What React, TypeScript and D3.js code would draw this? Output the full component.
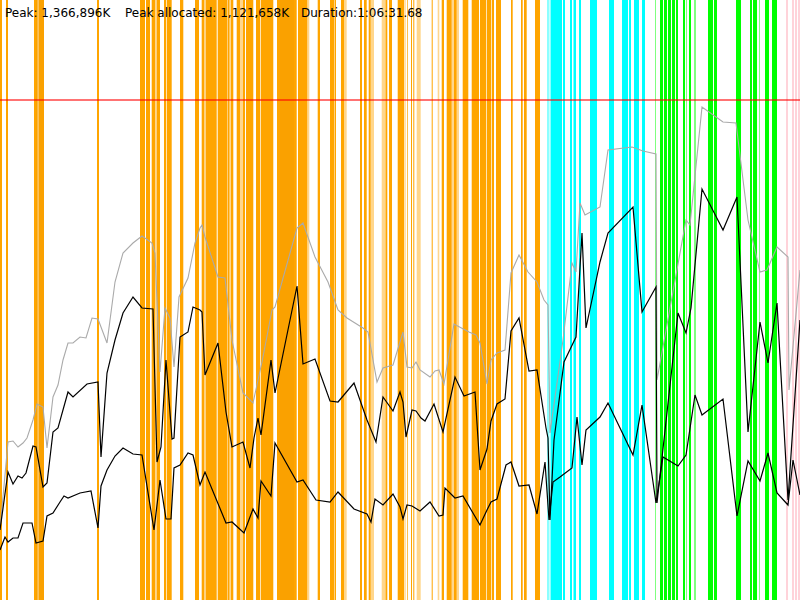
import React from 'react';
import * as d3 from 'd3';

const WIDTH = 800;
const HEIGHT = 600;
const TIME_EXTENT = 4000; // seconds shown across the plot
const MEM_EXTENT = 1620; // MB at top of plot
const MEM_LIMIT = 1350; // MB, red limit line

const headerLabels = ['Peak: 1,366,896K', 'Peak allocated: 1,121,658K', 'Duration:1:06:31.68'];
const headerOffsets = [5, 125, 301];

// phase intervals [start s, end s]
const orangeBars: [number, number][] = [
  [0, 10], [30, 40], [170, 187.5], [195, 220], [485, 495], [700, 725], [730, 750], [758.5, 775], [783.5, 800],
  [820, 830], [833.5, 858.5], [900, 916.5], [975, 995], [1008.5, 1022.5], [1027.5, 1083.5], [1088.5, 1136.5],
  [1140, 1147.5], [1155, 1166.5], [1183.5, 1200], [1215, 1225], [1230, 1266.5], [1280, 1300], [1303.5, 1366.5],
  [1385, 1483.5], [1490, 1536.5], [1588.5, 1600], [1650, 1671.5], [1673.5, 1680], [1705, 1720], [1800, 1810],
  [1820, 1833.5], [1843.5, 1853.5], [1927.5, 1936.5], [1945, 1960], [1988.5, 2021.5], [2036.5, 2040],
  [2055, 2060], [2066.5, 2071.5], [2158.5, 2163.5], [2208.5, 2220], [2233.5, 2258.5], [2270, 2283.5],
  [2313.5, 2341.5], [2358.5, 2395], [2400, 2430], [2433.5, 2455], [2458.5, 2470], [2480, 2505], [2555, 2563.5],
  [2605, 2613.5], [2620, 2633.5], [2675, 2700],
];
const orangeLightBars: [number, number][] = [
  [187.5, 195], [775, 783.5], [1136.5, 1140], [1147.5, 1155], [1200, 1215], [1536.5, 1546.5], [1720, 1733.5],
  [1853.5, 1870], [1908.5, 1927.5], [2026.5, 2030], [2083.5, 2103.5], [2188.5, 2196.5], [2258.5, 2270],
  [2283.5, 2295],
];
const orangeDenseBars: [number, number][] = [[180, 220], [1400, 1470]];
const cyanBars: [number, number][] = [
  [2755, 2810], [2815, 2825], [2850, 2860], [2867.5, 2880], [2895, 2905], [2950, 2985], [3045, 3070], [3110, 3140],
  [3145, 3155], [3170, 3195], [3210, 3225],
];
const cyanLightBars: [number, number][] = [[2735, 2745], [2747.5, 2755]];
const greenBars: [number, number][] = [
  [3300, 3315], [3320, 3335], [3340, 3355], [3360, 3375], [3380, 3390], [3415, 3425], [3445, 3455], [3540, 3565],
  [3570, 3585], [3680, 3705], [3750, 3760], [3765, 3785], [3825, 3845], [3860, 3885],
];
const greenLightBars: [number, number][] = [[3275, 3280], [3430, 3435], [3470, 3480], [3795, 3800]];
const pinkBars: [number, number][] = [[3930, 3940], [3960, 3970], [3975, 3985], [3990, 4000]];

// memory series [time s, MB]
const peakSeries: [number, number][] = [
  [0, 189], [40, 426.6], [65, 429.3], [90, 413.1], [115, 423.9], [135, 437.4], [165, 486], [185, 529.2], [215, 521.1],
  [235, 410.4], [265, 548.1], [290, 580.5], [315, 648], [340, 693.9], [365, 693.9], [400, 710.1], [430, 707.4],
  [460, 761.4], [490, 758.7], [535, 693.9], [575, 858.6], [615, 936.9], [665, 963.9], [710, 982.8], [760, 963.9],
  [775, 936.9], [800, 615.6], [825, 788.4], [850, 761.4], [870, 629.1], [895, 818.1], [940, 869.4], [975, 963.9],
  [1000, 1004.4], [1010, 1012.5], [1025, 980.1], [1090, 872.1], [1125, 869.4], [1160, 702], [1215, 558.9],
  [1265, 531.9], [1310, 642.6], [1360, 783], [1375, 791.1], [1485, 1004.4], [1515, 1017.9], [1575, 926.1],
  [1640, 858.6], [1690, 783], [1735, 761.4], [1815, 734.4], [1840, 723.6], [1885, 588.6], [1915, 626.4],
  [1965, 634.5], [2000, 696.6], [2015, 723.6], [2035, 629.1], [2060, 626.4], [2080, 642.6], [2100, 621],
  [2150, 602.1], [2175, 618.3], [2195, 621], [2220, 583.2], [2270, 745.2], [2345, 723.6], [2380, 715.5],
  [2400, 693.9], [2435, 583.2], [2455, 648], [2485, 666.9], [2525, 675], [2555, 882.9], [2595, 931.5],
  [2640, 885.6], [2685, 858.6], [2720, 810], [2740, 796.5], [2750, 450.9], [2815, 702], [2860, 909.9],
  [2880, 885.6], [2900, 1071.9], [2925, 1039.5], [3000, 1061.1], [3040, 1215], [3160, 1223.1], [3215, 1212.3],
  [3280, 1204.2], [3285, 594], [3430, 1026], [3450, 1012.5], [3510, 1331.1], [3615, 1290.6], [3680, 1287.9],
  [3740, 1026], [3800, 885.6], [3835, 891], [3885, 953.1], [3940, 926.1], [3945, 567], [4000, 891],
];
const allocatedSeries: [number, number][] = [
  [0, 189], [40, 345.6], [65, 313.2], [90, 334.8], [110, 329.4], [130, 342.9], [165, 415.8], [180, 413.1],
  [215, 305.1], [235, 315.9], [265, 453.6], [290, 464.4], [340, 561.6], [365, 548.1], [435, 583.2], [490, 588.6],
  [505, 386.1], [535, 612.9], [575, 702], [615, 774.9], [665, 818.1], [710, 788.4], [765, 785.7], [785, 372.6],
  [805, 413.1], [830, 648], [860, 434.7], [870, 437.4], [900, 710.1], [940, 723.6], [965, 791.1], [1000, 783],
  [1010, 777.6], [1025, 607.5], [1090, 693.9], [1130, 507.6], [1160, 413.1], [1215, 426.6], [1250, 356.4],
  [1270, 437.4], [1290, 491.4], [1305, 445.5], [1355, 648], [1375, 558.9], [1485, 847.8], [1515, 637.2],
  [1575, 650.7], [1650, 537.3], [1690, 534.6], [1770, 585.9], [1835, 486], [1880, 426.6], [1915, 548.1],
  [1965, 510.3], [2000, 561.6], [2015, 534.6], [2030, 440.1], [2060, 513], [2080, 510.3], [2105, 491.4],
  [2125, 483.3], [2170, 529.2], [2215, 453.6], [2275, 602.1], [2320, 550.8], [2375, 561.6], [2400, 351],
  [2435, 407.7], [2455, 483.3], [2485, 529.2], [2525, 542.7], [2555, 726.3], [2595, 761.4], [2645, 618.3],
  [2685, 621], [2730, 464.4], [2740, 437.4], [2750, 216], [2770, 432], [2820, 642.6], [2880, 710.1],
  [2910, 990.9], [2930, 734.4], [3000, 912.6], [3040, 990.9], [3165, 1061.1], [3210, 777.6], [3280, 845.1],
  [3285, 261.9], [3390, 774.9], [3430, 720.9], [3455, 788.4], [3510, 1109.7], [3615, 999], [3685, 1088.1],
  [3740, 453.6], [3800, 750.6], [3840, 639.9], [3885, 801.9], [3940, 270], [4000, 756],
];
const retainedSeries: [number, number][] = [
  [0, 135], [25, 170.1], [40, 156.6], [65, 167.4], [90, 167.4], [115, 207.9], [160, 207.9], [180, 153.9],
  [215, 159.3], [235, 226.8], [265, 234.9], [300, 264.6], [320, 280.8], [340, 275.4], [400, 288.9], [455, 294.3],
  [490, 194.4], [505, 307.8], [535, 351], [575, 388.8], [615, 410.4], [665, 394.2], [710, 391.5], [770, 189],
  [800, 324], [830, 218.7], [855, 218.7], [870, 356.4], [900, 364.5], [940, 396.9], [965, 391.5], [1000, 310.5],
  [1025, 345.6], [1130, 207.9], [1160, 210.6], [1220, 180.9], [1265, 245.7], [1290, 221.4], [1305, 321.3],
  [1355, 280.8], [1375, 423.9], [1485, 318.6], [1515, 324], [1580, 270], [1650, 264.6], [1690, 291.6],
  [1770, 245.7], [1835, 232.2], [1855, 210.6], [1875, 272.7], [1915, 256.5], [1965, 286.2], [2000, 251.1],
  [2015, 218.7], [2035, 256.5], [2060, 253.8], [2100, 240.3], [2150, 264.6], [2195, 226.8], [2215, 229.5],
  [2225, 302.4], [2275, 275.4], [2315, 280.8], [2400, 202.5], [2435, 243], [2455, 264.6], [2485, 272.7],
  [2530, 364.5], [2555, 372.6], [2595, 307.8], [2645, 310.5], [2685, 232.2], [2725, 372.6], [2745, 216],
  [2765, 318.6], [2800, 332.1], [2860, 356.4], [2885, 494.1], [2910, 364.5], [2930, 459], [3000, 494.1],
  [3040, 531.9], [3165, 391.5], [3210, 526.5], [3280, 261.9], [3315, 386.1], [3390, 361.8], [3430, 391.5],
  [3475, 553.5], [3510, 499.5], [3615, 542.7], [3685, 226.8], [3740, 375.3], [3800, 321.3], [3840, 396.9],
  [3885, 288.9], [3940, 256.5], [3965, 378], [4000, 283.5],
];

export default function App() {
  const x = d3.scaleLinear().domain([0, TIME_EXTENT]).range([0, WIDTH]);
  const y = d3.scaleLinear().domain([0, MEM_EXTENT]).range([HEIGHT, 0]);
  const line = d3
    .line<[number, number]>()
    .x((d) => x(d[0]))
    .y((d) => y(d[1]));

  const bars = (data: [number, number][], fill: string, opacity: number, key: string) =>
    data.map((d, i) => (
      <rect
        key={key + i}
        x={x(d[0])}
        y={0}
        width={x(d[1]) - x(d[0])}
        height={HEIGHT}
        fill={fill}
        fillOpacity={opacity}
      />
    ));

  return (
    <svg
      width={WIDTH}
      height={HEIGHT}
      style={{ position: 'absolute', left: 0, top: 0, background: '#fff' }}
    >
      <rect x={0} y={0} width={WIDTH} height={HEIGHT} fill="#fff" />
      {bars(orangeBars, '#FFA500', 1, 'o')}
      {bars(orangeLightBars, '#FFA500', 0.45, 'ol')}
      {bars(orangeDenseBars, '#F29C00', 0.35, 'od')}
      {bars(cyanBars, '#00FFFF', 1, 'c')}
      {bars(cyanLightBars, '#00FFFF', 0.45, 'cl')}
      {bars(greenBars, '#00FF00', 1, 'g')}
      {bars(greenLightBars, '#00FF00', 0.5, 'gl')}
      {bars(pinkBars, '#FFC0CB', 0.7, 'p')}
      <line x1={0} x2={WIDTH} y1={y(MEM_LIMIT)} y2={y(MEM_LIMIT)} stroke="#FF0000" strokeOpacity={0.55} strokeWidth={2} />
      <path d={line(peakSeries) || ''} fill="none" stroke="#aaaaaa" strokeWidth={1.1} />
      <path d={line(allocatedSeries) || ''} fill="none" stroke="#000" strokeWidth={1.2} />
      <path d={line(retainedSeries) || ''} fill="none" stroke="#000" strokeWidth={1.2} />
      {headerLabels.map((t, i) => (
        <text
          key={t}
          x={headerOffsets[i]}
          y={17}
          fontFamily="'DejaVu Sans', sans-serif"
          fontSize={12}
          fill="#000"
        >
          {t}
        </text>
      ))}
    </svg>
  );
}
